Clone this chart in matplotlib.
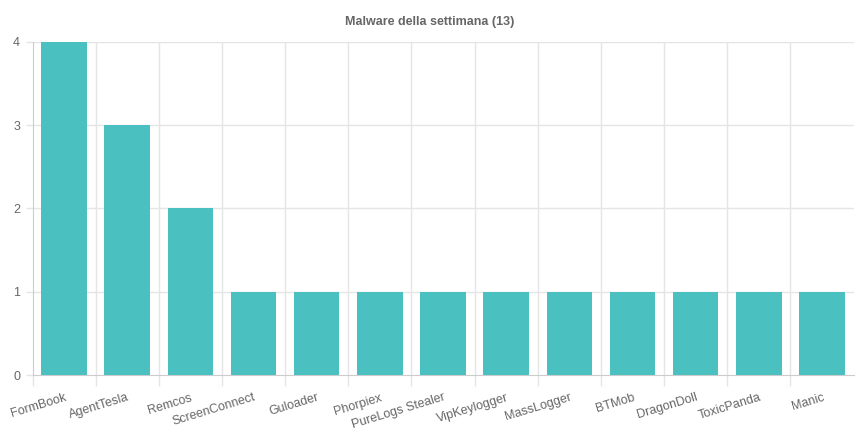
import matplotlib
matplotlib.use("Agg")
import matplotlib.pyplot as plt
import numpy as np

# Malware counts of the week
labels = ["FormBook", "AgentTesla", "Remcos", "ScreenConnect", "Guloader", "Phorpiex",
          "PureLogs Stealer", "VipKeylogger", "MassLogger", "BTMob", "DragonDoll",
          "ToxicPanda", "Manic"]
counts = [4, 3, 2, 1, 1, 1, 1, 1, 1, 1, 1, 1, 1]
title = "Malware della settimana (13)"

plt.rcParams['font.family'] = ['Liberation Sans', 'DejaVu Sans']
txt = "#666666"
grid = "#e5e5e5"

fig = plt.figure(figsize=(8.6, 4.43), dpi=100)
ax = fig.add_axes([32.5 / 860, 1 - 375 / 443, 821 / 860, 333 / 443])

x = np.arange(len(labels))
ax.bar(x, counts, width=0.72, color="#4bc0c0", edgecolor="#4bc0c0", linewidth=0, zorder=3)

ax.set_xlim(-0.5, len(labels) - 0.5)
ax.set_ylim(0, 4)
ax.set_yticks([0, 1, 2, 3, 4])

# vertical grid at category boundaries
for b in np.arange(0.5, len(labels) - 0.5, 1):
    ax.axvline(b, color=grid, lw=1, zorder=0)
for v in [1, 2, 3, 4]:
    ax.axhline(v, color=grid, lw=1, zorder=0)

for s in ["top", "right"]:
    ax.spines[s].set_visible(False)
ax.spines["left"].set_color("#cccccc")
ax.spines["bottom"].set_color("#cccccc")

ax.set_xticks(np.arange(-0.5, len(labels) - 0.5, 1), minor=False)
ax.set_xticklabels([])
ax.tick_params(axis="x", length=8, color=grid, width=1)
ax.tick_params(axis="y", length=5, color=grid, width=1, labelcolor=txt, labelsize=9, pad=4)

for i, lab in enumerate(labels):
    ax.annotate(lab, xy=(i, 0), xycoords=("data", "axes fraction"),
                xytext=(0, -12), textcoords="offset points",
                ha="right", va="top", rotation=17, rotation_mode="anchor",
                color=txt, fontsize=9)

fig.text(0.5, 1 - 22 / 443, title, ha="center", va="center",
         fontsize=9, fontweight="bold", color=txt)

fig.savefig("out.png", dpi=100)
